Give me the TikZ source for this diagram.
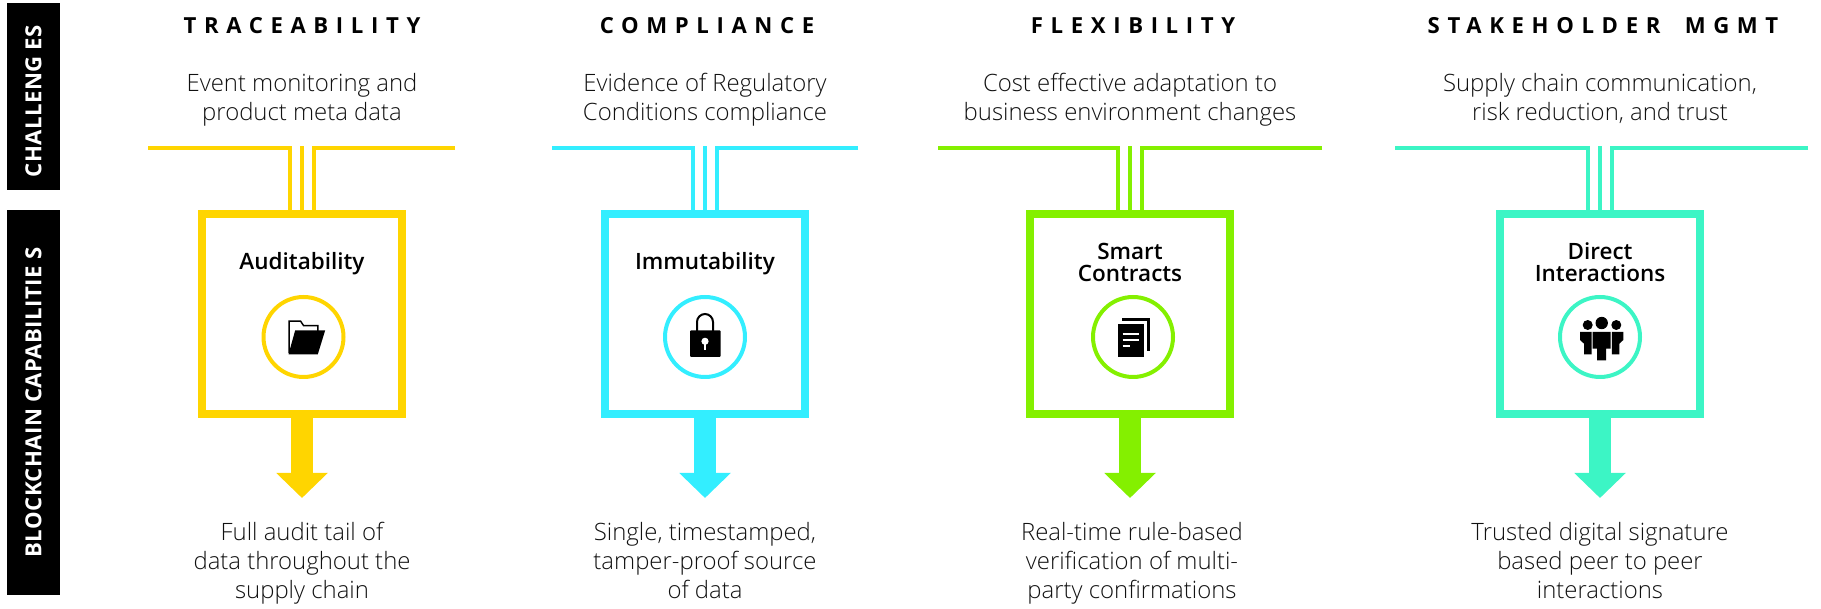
\documentclass[tikz,border=0pt]{standalone}
\usepackage{fontspec}
\usepackage{xcolor}
\usetikzlibrary{arrows.meta}
\setmainfont{Open Sans}
\newfontfamily\lightfont{Open Sans Light}
\newfontfamily\titlefont{Open Sans Semibold}
\newfontfamily\headfont[LetterSpace=34.5]{Open Sans Bold}
\newfontfamily\sidefont[LetterSpace=2]{Open Sans Bold}
\definecolor{coltrace}{HTML}{FFD500}
\definecolor{colcomply}{HTML}{33EEFF}
\definecolor{colflex}{HTML}{84F000}
\definecolor{colstake}{HTML}{3CF5C5}
\definecolor{coltext}{HTML}{111111}
\tikzset{
  sidebar/.style={fill=black, text=white, rotate=90, inner sep=0, minimum height=.53cm, font=\sidefont\fontsize{6.3pt}{8pt}\selectfont},
  headtext/.style={font=\headfont\fontsize{6.3pt}{8pt}\selectfont, inner sep=0},
  subtext/.style={align=center, anchor=base, text=coltext, inner sep=0, font=\lightfont\fontsize{6.8pt}{8.35pt}\selectfont},
  boxtitle/.style={align=center, inner sep=0, font=\titlefont\fontsize{6.4pt}{6.3pt}\selectfont},
  capbox/.style={draw, line width=.08cm, minimum size=2cm, inner sep=0},
  capring/.style={draw, circle, line width=.04cm, minimum size=.8cm, inner sep=0},
  wire/.style={line width=.04cm},
  downarrow/.style={line width=.22cm, -{Triangle[width=.5cm,length=.25cm]}}
}
\begin{document}
\begin{tikzpicture}
\useasboundingbox (0,0) rectangle (18.21,6.09);
% боковые полосы
\node [sidebar, minimum width=1.87cm] (sideup) at (.335,5.125) {CHALLENG ES\hspace*{.09cm}};
\node [sidebar, minimum width=3.85cm] (sidedown) at (.335,2.065) {BLOCKCHAIN CAPABILITIE S};
% заголовки
\node [headtext] (headtrace) at (3.02,5.83) {TRACEABILITY};
\node [headtext] (headcomply) at (7.07,5.83) {COMPLIANCE};
\node [headtext] (headflex) at (11.33,5.83) {FLEXIBILITY};
\node [headtext] (headstake) at (16.03,5.83) {STAKEHOLDER\hspace{.11cm} MGMT};
% задачи
\node [subtext] (subtrace) at (3.02,4.88) {Event monitoring and\\product meta data};
\node [subtext] (subcomply) at (7.05,4.88) {Evidence of Regulatory\\Conditions compliance};
\node [subtext] (subflex) at (11.30,4.88) {Cost effective adaptation to\\business environment changes};
\node [subtext] (substake) at (16.00,4.88) {Supply chain communication,\\risk reduction, and trust};
% рамки
\node [capbox, coltrace] (boxtrace) at (3.02,2.95) {};
\node [capbox, colcomply] (boxcomply) at (7.05,2.95) {};
\node [capbox, colflex] (boxflex) at (11.30,2.95) {};
\node [capbox, colstake] (boxstake) at (16.00,2.95) {};
\node [boxtitle] (titletrace) at (3.02,3.455) {Auditability};
\node [boxtitle] (titlecomply) at (7.05,3.455) {Immutability};
\node [boxtitle] (titleflex) at (11.30,3.465) {Smart\\Contracts};
\node [boxtitle] (titlestake) at (16.00,3.465) {Direct\\Interactions};
\node [capring, coltrace] (ringtrace) at (3.035,2.72) {};
\node [capring, colcomply] (ringcomply) at (7.05,2.72) {};
\node [capring, colflex] (ringflex) at (11.33,2.72) {};
\node [capring, colstake] (ringstake) at (16.00,2.72) {};
% результаты
\node [subtext] (endtrace) at (3.02,.10) {Full audit tail of\\data throughout the\\supply chain};
\node [subtext] (endcomply) at (7.05,.10) {Single, timestamped,\\tamper-proof source\\of data};
\node [subtext] (endflex) at (11.32,.10) {Real-time rule-based\\verification of multi-\\party confirmations};
\node [subtext] (endstake) at (16.00,.10) {Trusted digital signature\\based peer to peer\\interactions};
% концы линий
\coordinate (lefttrace) at (1.48,4.61);
\coordinate (righttrace) at (4.55,4.61);
\coordinate (leftcomply) at (5.52,4.61);
\coordinate (rightcomply) at (8.58,4.61);
\coordinate (leftflex) at (9.38,4.61);
\coordinate (rightflex) at (13.22,4.61);
\coordinate (leftstake) at (13.95,4.61);
\coordinate (rightstake) at (18.08,4.61);
% линии и стрелки
\foreach \nm in {trace,comply,flex,stake} {
  \draw [wire, col\nm] (left\nm) -| ([xshift=-.12cm]box\nm.north);
  \draw [wire, col\nm] (right\nm) -| ([xshift=.12cm]box\nm.north);
  \draw [wire, col\nm] (box\nm.north) -- ([yshift=.64cm]box\nm.north);
  \draw [downarrow, col\nm] (box\nm.south) -- ([yshift=-.80cm]box\nm.south);
}
% папка
\begin{scope}[shift={(ringtrace.center)}, x=.01cm, y=.01cm]
\draw [line width=.015cm] (-14.3,-16) -- (-14.3,16) -- (-3,16) -- (0,11.5) -- (14.3,11.5) -- (14.3,6);
\fill (-15,-17.3) -- (-8.3,6.7) -- (21.7,6.7) -- (14.3,-17.3) -- cycle;
\fill (-15,-17.3) rectangle (-13.6,0);
\end{scope}
% замок
\begin{scope}[shift={(ringcomply.center)}, x=.01cm, y=.01cm]
\draw [line width=.02cm] (-8,6) -- (-8,15) arc [start angle=180, end angle=0, radius=8] -- (8,6);
\fill [rounded corners=.3] (-15,-20) rectangle (15.7,6.7);
\fill [white] (0,-4.3) circle [radius=3.6];
\fill [white] (-.8,-13.3) rectangle (.8,-5);
\end{scope}
% документы
\begin{scope}[shift={(ringflex.center)}, x=.01cm, y=.01cm]
\draw [line width=.03cm] (-11,17.5) -- (15.5,17.5) -- (15.5,-14);
\fill (-15.3,-20) rectangle (11.3,12.7);
\draw [white, line width=.02cm] (-10.3,3.3) -- (5.7,3.3);
\draw [white, line width=.02cm] (-10.3,-3.3) -- (5.7,-3.3);
\draw [white, line width=.02cm] (-10.3,-9.3) -- (-3.3,-9.3);
\end{scope}
% люди
\begin{scope}[shift={(ringstake.center)}, x=.01cm, y=.01cm]
\fill (1.7,14) circle [radius=6.2];
\fill (-12.3,12) circle [radius=5];
\fill (16.3,12) circle [radius=5];
\fill (-7.3,5) -- (10.7,5) -- (10.7,-11.7) -- (6,-11.7) -- (6,-23.3) -- (-3,-23.3) -- (-3,-11.7) -- (-7.3,-11.7) -- cycle;
\fill (-20,5) -- (-8.5,5) -- (-8.5,-17.3) -- (-16,-17.3) -- (-16,-6.7) -- (-20,-3) -- cycle;
\fill (23.3,5) -- (11.9,5) -- (11.9,-17.3) -- (19.3,-17.3) -- (19.3,-6.7) -- (23.3,-3) -- cycle;
\end{scope}
\end{tikzpicture}
\end{document}
